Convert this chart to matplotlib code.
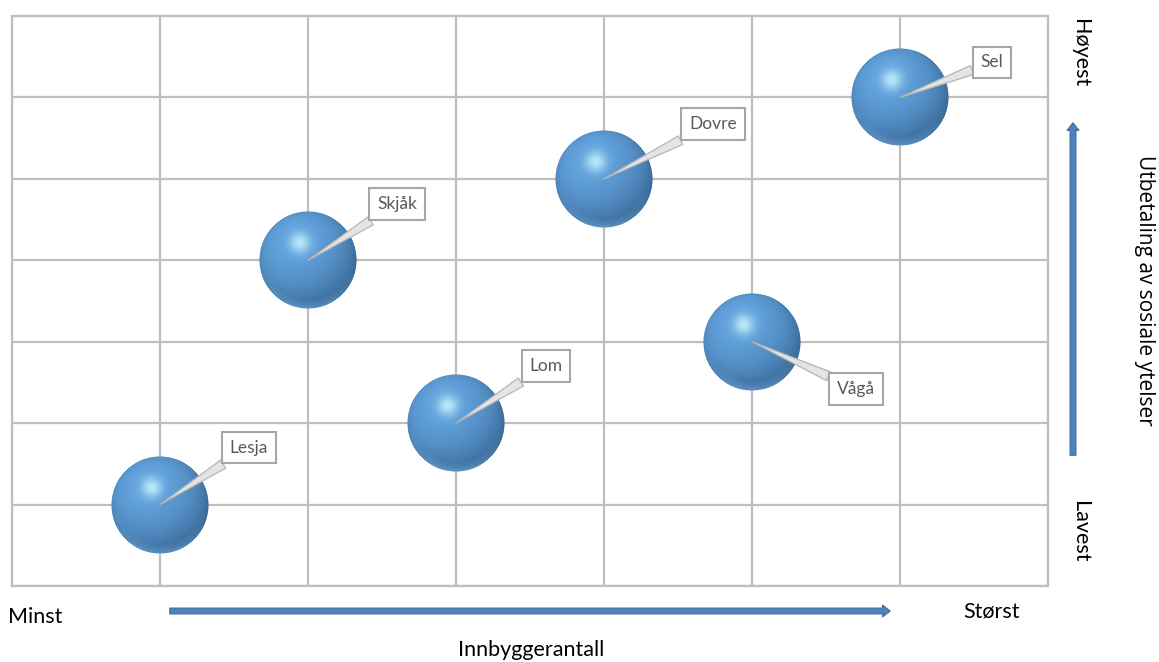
import numpy as np
import matplotlib
matplotlib.use("Agg")
import matplotlib.pyplot as plt
from matplotlib.offsetbox import OffsetImage, AnnotationBbox

# kommuner, plassert på en 7x7 matrise
kommuner = ["Lesja", "Lom", "Skjåk", "Vågå", "Dovre", "Sel"]
innbyggere = [1, 3, 2, 5, 4, 6]      # x: Minst -> Størst
utbetaling = [1, 2, 4, 3, 5, 6]      # y: Lavest -> Høyest

# label offset from bubble centre, in pixels (layout only)
LABEL_OFFSET = {
    "Lesja": (89, 57),
    "Lom": (90, 57),
    "Skjåk": (89, 56),
    "Vågå": (104, -47),
    "Dovre": (109, 55),
    "Sel": (92, 35),
}

GRID = "#BFBFBF"
ARROW = "#4F81BD"
FONT = ["Lato", "DejaVu Sans"]


def sphere_image(n=200):
    """Shaded sphere as RGBA, lit from upper left"""
    yy, xx = np.mgrid[-1:1:n * 1j, -1:1:n * 1j]
    yy = -yy
    rr = np.sqrt(xx ** 2 + yy ** 2)
    z = np.sqrt(np.clip(1 - rr ** 2, 0, 1))
    light = np.array([-0.3, 0.45, 0.84])
    light /= np.linalg.norm(light)
    diff = xx * light[0] + yy * light[1] + z * light[2]
    shade = np.clip(0.25 + 0.8 * diff, 0, 1)

    dark = np.array([0.20, 0.38, 0.55])
    mid = np.array([0.38, 0.63, 0.86])
    hi = np.array([0.78, 0.96, 1.0])
    col = dark + (mid - dark) * shade[..., None]
    spec = np.exp(-((xx + 0.17) ** 2 + (yy - 0.36) ** 2) / 0.045) * 0.85
    col = col + (hi - col) * spec[..., None]
    # lighter reflected band at the bottom
    rim = np.clip((rr - 0.8) / 0.2, 0, 1) * np.clip(-yy, 0, 1) ** 1.5 * 0.6
    col = col + (np.array([0.50, 0.72, 0.92]) - col) * rim[..., None]
    alpha = np.clip((1 - rr) * n / 2, 0, 1)
    return np.dstack([np.clip(col, 0, 1), alpha])


fig = plt.figure(figsize=(11.59, 6.62), dpi=100)
ax = fig.add_axes([12 / 1159, 1 - 586 / 662, 1036 / 1159, 570 / 662])
ax.set_xlim(0, 7)
ax.set_ylim(0, 7)
ax.set_xticks(range(8))
ax.set_yticks(range(8))
ax.tick_params(length=0, labelbottom=False, labelleft=False)
ax.grid(True, color=GRID, lw=1.6)
ax.set_axisbelow(True)
for s in ax.spines.values():
    s.set_color(GRID)
    s.set_linewidth(1.6)

img = sphere_image()
for name, x, y in zip(kommuner, innbyggere, utbetaling):
    ab = AnnotationBbox(OffsetImage(img, zoom=98 / 200, dpi_cor=False), (x, y),
                        frameon=False, pad=0, zorder=3)
    ax.add_artist(ab)
    dx, dy = LABEL_OFFSET[name]
    ax.annotate(name, xy=(x, y), xytext=(dx, dy), textcoords="offset pixels",
                ha="center", va="center", fontsize=12.5, color="#595959",
                family=FONT, zorder=5,
                bbox=dict(boxstyle="square,pad=0.45", fc="white", ec="#A6A6A6", lw=1.5),
                arrowprops=dict(arrowstyle="wedge,tail_width=0.55,shrink_factor=0.5",
                                fc="#E4E4E4", ec="#B5B5B5", lw=0.9,
                                shrinkA=0, shrinkB=0))

# aksepiler
arrow_style = "simple,tail_width=0.42,head_width=0.85,head_length=0.55"
ax.annotate("", xy=(893, 662 - 611), xytext=(167, 662 - 611), xycoords="figure pixels",
            arrowprops=dict(arrowstyle=arrow_style, mutation_scale=10,
                            fc=ARROW, ec="#3E6C9A", lw=0.8), annotation_clip=False)
ax.annotate("", xy=(1073, 662 - 120), xytext=(1073, 662 - 458), xycoords="figure pixels",
            arrowprops=dict(arrowstyle=arrow_style, mutation_scale=10,
                            fc=ARROW, ec="#3E6C9A", lw=0.8), annotation_clip=False)

fig.text(8 / 1159, 1 - 617 / 662, "Minst", fontsize=15.5, family=FONT, va="center", ha="left")
fig.text(992 / 1159, 1 - 611 / 662, "Størst", fontsize=15.5, family=FONT, va="center", ha="center")
fig.text(531 / 1159, 1 - 650 / 662, "Innbyggerantall", fontsize=15.5, family=FONT,
         va="center", ha="center")
fig.text(1080 / 1159, 1 - 53 / 662, "Høyest", fontsize=15.5, family=FONT, rotation=-90,
         va="center", ha="center")
fig.text(1080 / 1159, 1 - 532 / 662, "Lavest", fontsize=15.5, family=FONT, rotation=-90,
         va="center", ha="center")
fig.text(1145 / 1159, 1 - 290 / 662, "Utbetaling av sosiale ytelser", fontsize=15,
         family=["Open Sans", "DejaVu Sans"], rotation=-90, va="center", ha="center")

fig.savefig("out.png", dpi=100)
